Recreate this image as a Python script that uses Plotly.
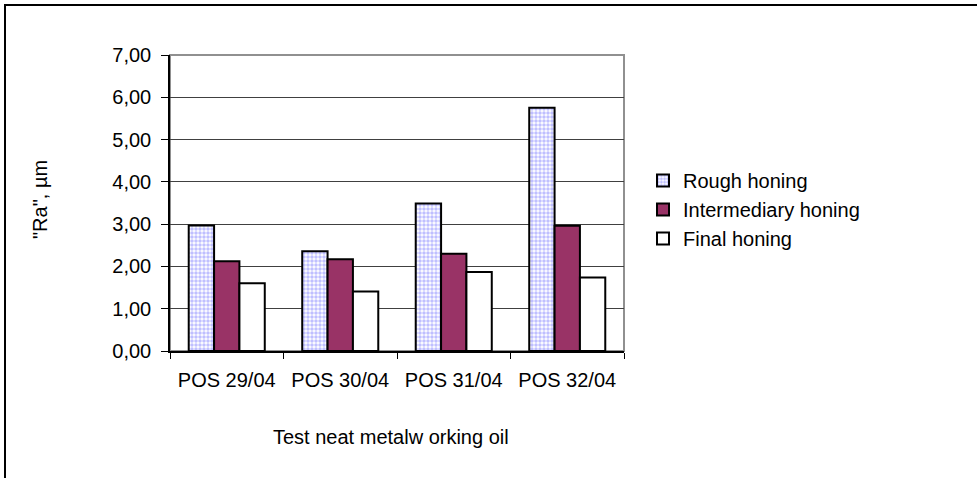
import plotly.graph_objects as go

categories = ["POS 29/04", "POS 30/04", "POS 31/04", "POS 32/04"]
rough = [2.97, 2.36, 3.49, 5.75]
intermediary = [2.12, 2.17, 2.30, 2.96]
final = [1.60, 1.41, 1.87, 1.74]
y_ticks = [0, 1, 2, 3, 4, 5, 6, 7]

FONT = "Liberation Sans, Arial, sans-serif"
W, H = 977, 478
L, R, T, B = 170, 624, 55, 351
pw, ph = R - L, B - T

def px_x(x):
    return (x - L) / pw

def px_y(y):
    return (B - y) / ph

fig = go.Figure()
fig.add_trace(go.Bar(
    x=categories, y=rough, name="Rough honing",
    marker=dict(color="white", line=dict(color="black", width=2),
                pattern=dict(shape=".", fgcolor="#8080ff", bgcolor="white",
                             size=4, solidity=0.6, fillmode="overlay")),
))
fig.add_trace(go.Bar(
    x=categories, y=intermediary, name="Intermediary honing",
    marker=dict(color="#993366", line=dict(color="black", width=2)),
))
fig.add_trace(go.Bar(
    x=categories, y=final, name="Final honing",
    marker=dict(color="white", line=dict(color="black", width=2)),
))

fig.update_layout(
    width=W, height=H,
    margin=dict(l=L, r=W - R, t=T, b=H - B, pad=0),
    paper_bgcolor="white", plot_bgcolor="white",
    font=dict(family=FONT, size=20, color="black"),
    barmode="group", bargap=0.33, bargroupgap=0,
    separators=", ",
    showlegend=True,
    legend=dict(x=px_x(643), xanchor="left", y=px_y(161), yanchor="top",
                bgcolor="rgba(0,0,0,0)", font=dict(size=20),
                itemclick=False, traceorder="normal"),
    xaxis=dict(showline=True, linecolor="black", linewidth=1.5,
               ticks="outside", tickson="boundaries", ticklen=6,
               tickcolor="black", showgrid=False, fixedrange=True,
               ticklabelstandoff=10, tickfont=dict(size=20)),
    yaxis=dict(range=[0, 7], tickvals=y_ticks, tickformat=".2f",
               showline=True, linecolor="black", linewidth=1.5,
               ticks="outside", ticklen=7, tickcolor="black",
               showgrid=True, gridcolor="#404040", gridwidth=1,
               zeroline=False, fixedrange=True, ticklabelstandoff=6,
               tickfont=dict(size=20)),
    shapes=[
        dict(type="rect", xref="paper", yref="paper", x0=0, x1=1, y0=0, y1=1,
             line=dict(color="#909090", width=2), layer="below"),
        dict(type="rect", xref="paper", yref="paper",
             x0=px_x(5), x1=px_x(990), y0=px_y(5), y1=px_y(500),
             line=dict(color="black", width=2), layer="below"),
    ],
    annotations=[
        dict(text='"Ra", µm', xref="paper", yref="paper", x=px_x(40), y=px_y(200),
             xanchor="center", yanchor="middle", textangle=-90, showarrow=False,
             font=dict(size=20)),
        dict(text="Test neat metalw orking oil", xref="paper", yref="paper",
             x=px_x(391), y=px_y(437), xanchor="center", yanchor="middle",
             showarrow=False, font=dict(size=20)),
    ],
)

fig.write_html("out.html", config={"displayModeBar": False},
               post_script="document.body.style.margin='0';document.body.style.overflow='hidden';")
